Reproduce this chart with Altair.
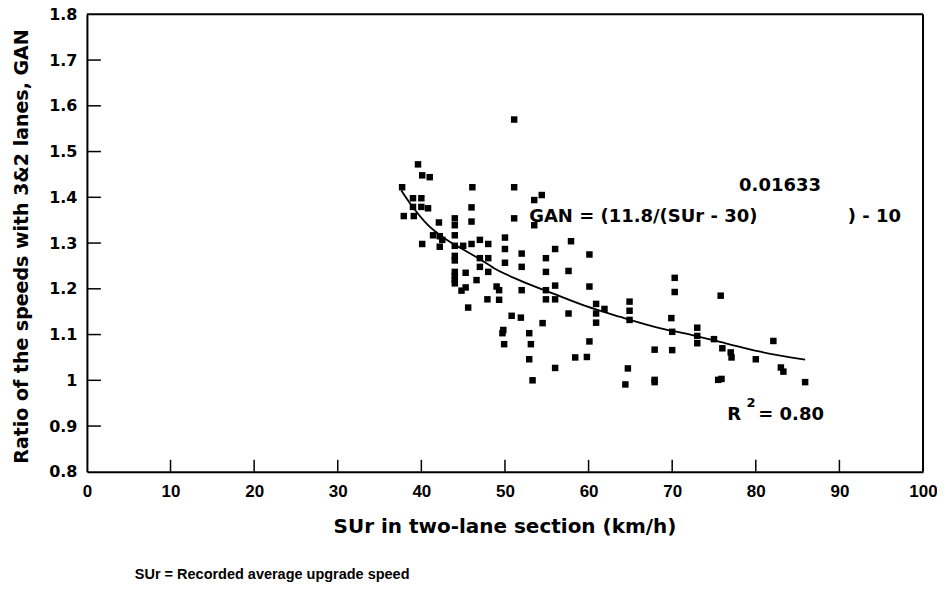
import altair as alt
import pandas as pd

# observed points (SUr km/h, GAN ratio)
sur = [51.1, 39.6, 40.1, 41.0, 37.7, 46.1, 51.1, 39.0, 40.0, 53.5, 54.4, 39.0, 40.0, 40.8, 46.0,
       37.9, 39.1, 51.1, 53.5, 42.1, 44.0, 44.0, 46.0, 41.4, 42.2, 42.5, 44.0, 40.1, 42.2, 44.0,
       45.0, 46.0, 47.0, 48.0, 50.0, 50.0, 52.0, 56.0, 44.0, 44.0, 47.0, 48.0, 50.0, 54.9, 47.0,
       52.0, 44.0, 44.0, 44.0, 44.0, 45.3, 48.0, 54.9, 46.6, 49.0, 49.3, 44.8, 45.3, 52.0, 54.9,
       56.0, 47.9, 49.3, 54.9, 56.0, 45.6, 50.8, 51.9, 54.5, 49.8, 49.7, 52.9, 49.9, 53.1, 52.9,
       56.0, 53.3, 57.9, 60.1, 57.6, 60.1, 70.3, 70.3, 75.8, 57.6, 60.9, 60.9, 61.9, 64.9, 64.9,
       64.9, 60.9, 69.9, 70.0, 73.0, 73.0, 73.0, 75.0, 76.0, 77.0, 77.1, 60.1, 58.4, 59.8, 67.9,
       70.0, 64.7, 67.9, 67.9, 64.4, 75.5, 75.9, 82.1, 80.0, 83.0, 83.3, 85.9]
gan = [1.570, 1.472, 1.448, 1.444, 1.422, 1.422, 1.422, 1.398, 1.398, 1.394, 1.405, 1.379, 1.379, 1.376, 1.378,
       1.359, 1.359, 1.354, 1.339, 1.345, 1.354, 1.339, 1.347, 1.317, 1.315, 1.307, 1.317, 1.298, 1.292, 1.294,
       1.294, 1.298, 1.307, 1.298, 1.312, 1.287, 1.277, 1.287, 1.272, 1.262, 1.267, 1.267, 1.257, 1.267, 1.248,
       1.248, 1.237, 1.228, 1.220, 1.212, 1.235, 1.237, 1.237, 1.219, 1.205, 1.197, 1.196, 1.203, 1.197, 1.197,
       1.207, 1.177, 1.176, 1.177, 1.177, 1.159, 1.141, 1.137, 1.125, 1.110, 1.103, 1.103, 1.079, 1.079, 1.046,
       1.027, 1.000, 1.304, 1.275, 1.239, 1.205, 1.224, 1.193, 1.185, 1.146, 1.167, 1.146, 1.156, 1.172, 1.152,
       1.132, 1.126, 1.136, 1.106, 1.115, 1.097, 1.081, 1.090, 1.070, 1.061, 1.050, 1.085, 1.050, 1.051, 1.067,
       1.066, 1.026, 1.001, 0.996, 0.991, 1.001, 1.003, 1.086, 1.046, 1.028, 1.019, 0.996]

# fitted curve
curve_x = [37.6, 38.8, 40.8, 42.8, 44.8, 46.8, 48.7, 51.7, 55.7, 59.7, 63.7, 68.5, 72.4, 76.4, 80.4, 85.9]
curve_y = [1.415, 1.383, 1.339, 1.310, 1.288, 1.267, 1.245, 1.219, 1.190, 1.162, 1.139, 1.114, 1.099, 1.081, 1.063, 1.045]

x_ticks = [0, 10, 20, 30, 40, 50, 60, 70, 80, 90, 100]
y_ticks = [0.8, 0.9, 1.0, 1.1, 1.2, 1.3, 1.4, 1.5, 1.6, 1.7, 1.8]
x_inner_ticks = [10, 20, 30, 40, 50, 60, 70, 80, 90]
y_inner_ticks = [0.9, 1.0, 1.1, 1.2, 1.3, 1.4, 1.5, 1.6, 1.7]

eq_text = ["GAN = (11.8/(SUr - 30)", ") - 10"]
eq_x = [52.9, 91.0]
eq_y = [1.357, 1.357]
exp_text = ["0.01633"]
exp_x = [78.0]
exp_y = [1.424]
r_text = ["R", "= 0.80"]
r_x = [76.6, 80.3]
r_y = [0.924, 0.924]
r2_text = ["2"]
r2_x = [78.9]
r2_y = [0.950]
footnote = "SUr = Recorded average upgrade speed"

W, H = 837, 458
xs = alt.Scale(domain=[0, 100], nice=False, zero=False)
ys = alt.Scale(domain=[0.8, 1.8], nice=False, zero=False)
WIDE = "DejaVu Sans"
NARROW = "Liberation Sans"

x_axis = alt.Axis(
    values=x_ticks, ticks=False, domain=True, domainColor="black", domainWidth=2,
    grid=False, format="d",
    labelFont=NARROW, labelFontWeight="bold", labelFontSize=17, labelColor="black",
    labelPadding=12, labelFlush=False, labelOverlap=False,
    title="SUr in two-lane section (km/h)", titleFont=WIDE, titleFontWeight="bold",
    titleFontSize=20, titleColor="black", titleX=418, titleY=55,
    titleBaseline="middle", titleAlign="center")
y_axis = alt.Axis(
    values=y_ticks, ticks=False, domain=True, domainColor="black", domainWidth=2,
    grid=False, format="~g",
    labelFont=WIDE, labelFontWeight="bold", labelFontSize=16, labelColor="black",
    labelPadding=10, labelFlush=False, labelOverlap=False,
    title="Ratio of the speeds with 3&2 lanes, GAN", titleFont=WIDE,
    titleFontWeight="bold", titleFontSize=19, titleColor="black",
    titleX=-65, titleY=232, titleAngle=-90, titleBaseline="middle",
    titleAlign="center")

X = lambda f: alt.X(f, scale=xs, axis=x_axis)
Y = lambda f: alt.Y(f, scale=ys, axis=y_axis)

pts = alt.Chart(pd.DataFrame({"x": sur, "y": gan})).mark_square(
    size=42, color="black", opacity=1
).encode(x=X("x:Q"), y=Y("y:Q"))

line = alt.Chart(pd.DataFrame({"x": curve_x, "y": curve_y})).mark_line(
    color="black", strokeWidth=1.8, interpolate="monotone"
).encode(x=X("x:Q"), y=Y("y:Q"))

ytk = alt.Chart(pd.DataFrame({"y": y_inner_ticks})).mark_rule(color="black", strokeWidth=1.5).encode(
    y=Y("y:Q"), x=alt.value(0), x2=alt.value(14))
xtk = alt.Chart(pd.DataFrame({"x": x_inner_ticks})).mark_rule(color="black", strokeWidth=1.5).encode(
    x=X("x:Q"), y=alt.value(H), y2=alt.value(H - 12))

# top and right frame lines of the plot box
frame_top = alt.Chart(pd.DataFrame({"k": [0]})).mark_rule(color="black", strokeWidth=2).encode(
    x=alt.value(0), x2=alt.value(W), y=alt.value(0))
frame_right = alt.Chart(pd.DataFrame({"k": [0]})).mark_rule(color="black", strokeWidth=2).encode(
    x=alt.value(W), y=alt.value(0), y2=alt.value(H))


def txt(texts, xv, yv, size, font=WIDE):
    return alt.Chart(pd.DataFrame({"x": xv, "y": yv, "t": texts})).mark_text(
        align="left", baseline="middle", font=font, fontWeight="bold",
        fontSize=size, color="black"
    ).encode(x=X("x:Q"), y=Y("y:Q"), text="t:N")


eq = txt(eq_text, eq_x, eq_y, 18)
ex = txt(exp_text, exp_x, exp_y, 18)
rr = txt(r_text, r_x, r_y, 18)
r2 = txt(r2_text, r2_x, r2_y, 13)

foot = alt.Chart(pd.DataFrame({"t": [footnote]})).mark_text(
    align="left", baseline="middle", font=NARROW, fontWeight="bold",
    fontSize=14.5, color="black"
).encode(x=alt.value(48), y=alt.value(561), text="t:N")

chart = alt.layer(pts, line, ytk, xtk, frame_top, frame_right, eq, ex, rr, r2, foot).properties(
    width=W, height=H,
    padding={"left": 79, "top": 6, "right": 14, "bottom": 114},
    autosize="none",
    background="white",
).configure_view(stroke=None)

chart.save("out.html", embed_options={"renderer": "svg", "actions": False})
